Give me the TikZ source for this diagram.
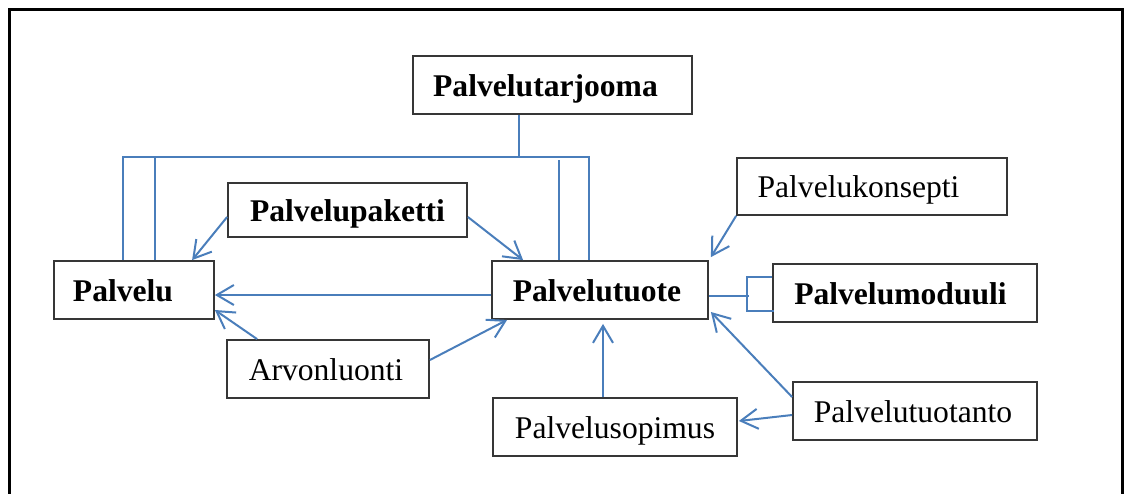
\documentclass[tikz,border=0pt]{standalone}
\usepackage{fontspec}
\setmainfont{Liberation Serif}
\usetikzlibrary{arrows.meta}
\definecolor{conn}{HTML}{4A7EBB}
\definecolor{edge}{HTML}{363636}
\begin{document}
\begin{tikzpicture}[x=1pt,y=-1pt,
  box/.style={draw=edge, line width=1.8pt, rectangle, inner sep=0pt,
    minimum height=58pt, text height=24pt, text depth=1.4pt,
    font=\fontsize{31.6pt}{36pt}\selectfont},
  boldbox/.style={box, font=\fontsize{31.6pt}{36pt}\selectfont\bfseries},
  link/.style={draw=conn, line width=2pt},
  arr/.style={link, -{Straight Barb[length=17pt,width=20pt]}}]
\useasboundingbox (0,0) rectangle (1125,493);
% outer frame, open at the bottom
\draw[line width=3pt, line join=miter] (9.5,496) -- (9.5,9.5) -- (1122.5,9.5) -- (1122.5,496);

% boxes
\node[boldbox, minimum width=279pt] (tarj) at (552.5,85) {Palvelutarjooma\hspace*{14pt}};
\node[boldbox, minimum width=239pt, minimum height=54pt] (paket) at (347.5,210) {Palvelupaketti};
\node[boldbox, minimum width=160pt] (pal) at (134,290) {Palvelu\hspace*{22pt}};
\node[boldbox, minimum width=216pt] (tuote) at (600,290) {Palvelutuote\hspace*{6pt}};
\node[box, minimum width=202pt] (arvo) at (328,369) {Arvonluonti\hspace*{4pt}};
\node[box, minimum width=270pt, minimum height=57pt] (konsep) at (872,186.5) {Palvelukonsepti\hspace*{27pt}};
\node[boldbox, minimum width=264pt] (moduuli) at (905,293) {Palvelumoduuli\hspace*{9pt}};
\node[box, minimum width=244pt] (sopimus) at (615,427) {Palvelusopimus};
\node[box, minimum width=244pt] (tuotanto) at (915,411) {Palvelutuotanto\hspace*{4pt}};

% offering bus above Palvelu and Palvelutuote
\coordinate (bus) at (519,157);
\coordinate (busL) at (123,157);
\coordinate (busR) at (589,157);
\coordinate (jL) at (155,158);
\coordinate (jR) at (559,160);
\draw[link] (tarj.south -| bus) -- (bus);
\draw[link, line join=miter] (busL |- pal.north) -- (busL) -- (busR) -- (busR |- tuote.north);
\draw[link] (jL) -- (jL |- pal.north);
\draw[link] (jR) -- (jR |- tuote.north);

% arrows
\draw[arr] ([yshift=-7pt]paket.west) -- ([xshift=139pt]pal.north west);
\draw[arr] ([yshift=-7pt]paket.east) -- ([xshift=32pt]tuote.north west);
\draw[arr] ([yshift=-5pt]tuote.west) -- ([yshift=-5pt]pal.east);
\draw[arr] ([xshift=31pt]arvo.north west) -- ([yshift=-20pt]pal.east);
\draw[arr] ([yshift=9pt]arvo.east) -- ([xshift=16pt]tuote.south west);
\draw[arr] (konsep.south west) -- ([xshift=2pt,yshift=3pt]tuote.north east);
\draw[arr, shorten >=4pt] ([xshift=-12pt]sopimus.north) -- ([xshift=3pt]tuote.south);
\draw[arr] ([yshift=14pt]tuotanto.west) -- ([xshift=2pt,yshift=-22pt]tuote.east);
\draw[arr] ([yshift=-4pt]tuotanto.west) -- ([xshift=1pt,yshift=6pt]sopimus.east);

% bracket joining Palvelumoduuli to Palvelutuote
\draw[link] ([yshift=-6pt]tuote.east) -- ++(40pt,0);
\draw[link, line join=miter] ([yshift=16pt]moduuli.west) -- ++(-25pt,0) -- ++(0,-34pt) -- ++(27pt,0);
\end{tikzpicture}
\end{document}
